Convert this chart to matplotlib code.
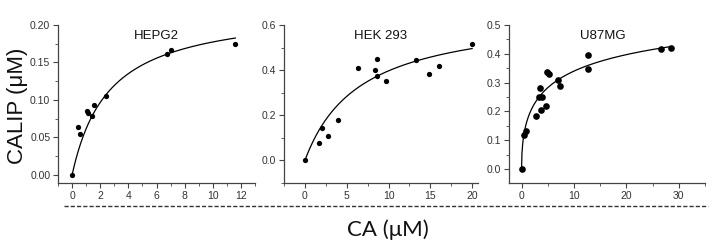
import numpy as np
import matplotlib
matplotlib.use("Agg")
import matplotlib.pyplot as plt
from matplotlib.ticker import MultipleLocator

# HEPG2
hep_x = [0, 0.42, 0.54, 1.06, 1.10, 1.44, 1.55, 2.42, 6.78, 7.01, 11.58]
hep_y = [0, 0.064, 0.054, 0.085, 0.082, 0.079, 0.093, 0.105, 0.161, 0.167, 0.174]
# HEK 293
hek_x = [0, 1.71, 2.03, 2.79, 3.90, 6.37, 8.41, 8.57, 8.65, 9.64, 13.3, 14.86, 15.98, 20.04]
hek_y = [0, 0.077, 0.142, 0.110, 0.181, 0.409, 0.400, 0.450, 0.373, 0.351, 0.443, 0.384, 0.418, 0.514]
# U87MG
u87_x = [0, 0.44, 0.82, 2.79, 3.23, 3.49, 3.68, 3.93, 4.57, 4.88, 5.20, 7.04, 7.36, 12.62, 12.62, 26.63, 28.47]
u87_y = [0, 0.119, 0.131, 0.183, 0.251, 0.282, 0.205, 0.251, 0.219, 0.338, 0.331, 0.310, 0.287, 0.396, 0.347, 0.417, 0.421]

# fit parameters (Vmax, K, hill n, x end)
hep_fit = (0.224, 2.63, 1.0, 11.6)
hek_fit = (0.660, 6.63, 1.0, 20.0)
u87_fit = (0.669, 9.38, 0.5, 28.5)

titles = ["HEPG2", "HEK 293", "U87MG"]

fig = plt.figure(figsize=(7.15, 2.49), dpi=100)
W, H = 715.0, 249.0

panels = [
    # left px, right px, data, fit, xlim, ylim, xmaj, xmin, ymaj, ymin, fmt, title pos, marker size
    (58, 255, hep_x, hep_y, hep_fit, (-1, 13), (-0.0107, 0.20), 2, 1, 0.05, 0.025, "%.2f", 0.50, 3.8),
    (284, 478, hek_x, hek_y, hek_fit, (-2.5, 20.7), (-0.1, 0.6), 5, 2.5, 0.2, 0.1, "%.1f", 0.50, 3.8),
    (509, 705, u87_x, u87_y, u87_fit, (-2.4, 35), (-0.049, 0.5), 10, 5, 0.1, 0.05, "%.1f", 0.48, 4.8),
]

gray = "#444444"
for i, (l, r, xs, ys, fit, xl, yl, xmj, xmn, ymj, ymn, fmt, tx, ms) in enumerate(panels):
    ax = fig.add_axes([l / W, (H - 183) / H, (r - l) / W, 158 / H])
    ax.plot(xs, ys, "o", color="black", markersize=ms, markeredgewidth=0)
    V, K, n, xe = fit
    xx = np.linspace(0, xe, 400)
    ax.plot(xx, V * xx**n / (K**n + xx**n), color="black", linewidth=0.9)
    ax.set_xlim(*xl)
    ax.set_ylim(*yl)
    ax.xaxis.set_major_locator(MultipleLocator(xmj))
    ax.xaxis.set_minor_locator(MultipleLocator(xmn))
    ax.yaxis.set_major_locator(MultipleLocator(ymj))
    ax.yaxis.set_minor_locator(MultipleLocator(ymn))
    ax.yaxis.set_major_formatter(plt.FormatStrFormatter(fmt))
    ax.xaxis.set_major_formatter(plt.FormatStrFormatter("%d"))
    for s in ["top", "right"]:
        ax.spines[s].set_visible(False)
    for s in ["left", "bottom"]:
        ax.spines[s].set_color(gray)
        ax.spines[s].set_linewidth(0.9)
    ax.tick_params(which="major", direction="out", length=3.5, width=0.8, color=gray,
                   labelsize=7.5, labelcolor="#333333", pad=2)
    ax.tick_params(which="minor", direction="out", length=2, width=0.6, color=gray)
    for lab in ax.get_xticklabels() + ax.get_yticklabels():
        lab.set_family("Liberation Sans")
    ax.text(tx, 0.97, titles[i], transform=ax.transAxes, ha="center", va="top",
            fontsize=9.5, family="Liberation Sans", color="#111111")

fig.text(18 / W, 1 - 106 / H, "CALIP (\u03bcM)", rotation=90, ha="center", va="center",
         fontsize=16, family="Liberation Sans", color="#111111")
fig.text(388 / W, 1 - 230 / H, "CA (\u03bcM)", ha="center", va="center",
         fontsize=16, family="Lato", color="#111111")
fig.add_artist(plt.Line2D([64 / W, 708 / W], [1 - 206 / H, 1 - 206 / H],
                          transform=fig.transFigure, color="#333333", linewidth=1.0,
                          linestyle=(0, (3, 1.5))))

fig.savefig("out.png", dpi=100)
